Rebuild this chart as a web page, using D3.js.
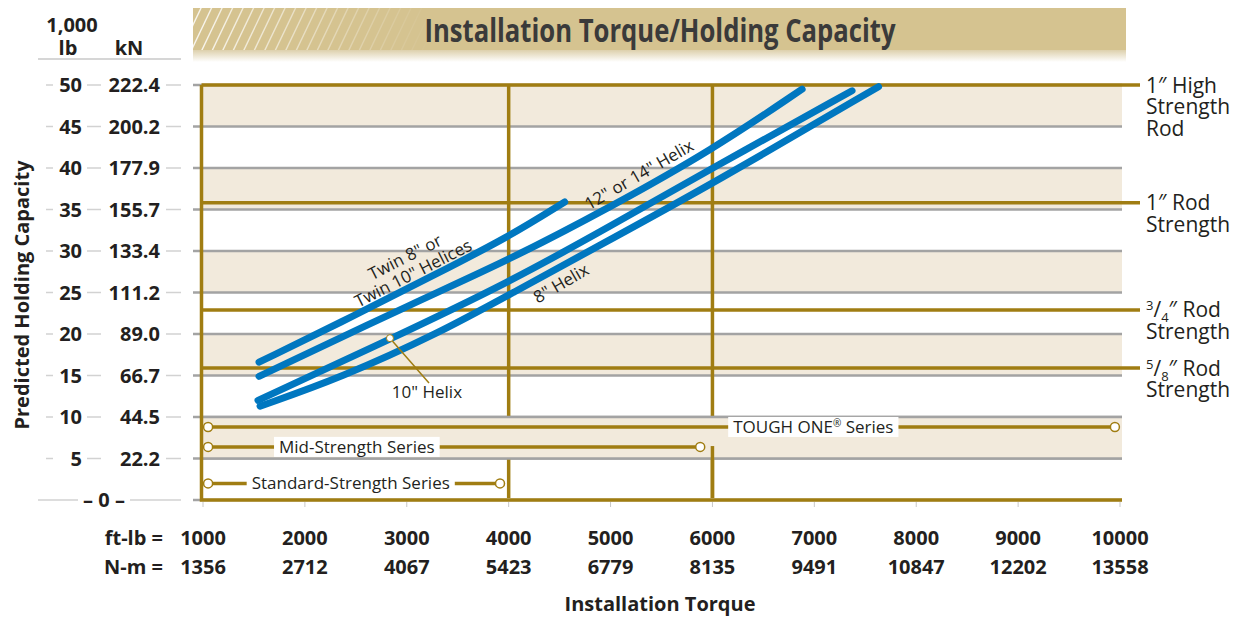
<!DOCTYPE html>
<html>
<head>
<meta charset="utf-8">
<script src="https://cdn.jsdelivr.net/npm/d3@7"></script>
<style>
  html, body { margin: 0; padding: 0; background: #fff; }
  svg { display: block; font-family: "Open Sans", sans-serif; }
</style>
</head>
<body>
<div id="chart"></div>
<script>
// installation torque ticks (ft-lb) and their N-m equivalents
const torqueFtLb = [1000, 2000, 3000, 4000, 5000, 6000, 7000, 8000, 9000, 10000];
const torqueNm = ["1356", "2712", "4067", "5423", "6779", "8135", "9491", "10847", "12202", "13558"];

// holding capacity ticks (1,000 lb) and kN equivalents
const capacityKips = [50, 45, 40, 35, 30, 25, 20, 15, 10, 5];
const capacityKN = ["222.4", "200.2", "177.9", "155.7", "133.4", "111.2", "89.0", "66.7", "44.5", "22.2"];

// rod strength limits (1,000 lb)
const rodNames = [["1″ High", "Strength", "Rod"], ["1″ Rod", "Strength"], ["3/4″ Rod", "Strength"], ["5/8″ Rod", "Strength"]];
const rodCapacity = [50, 35.8, 22.9, 15.9];

// product series torque ranges (ft-lb)
const seriesNames = ["Standard-Strength Series", "Mid-Strength Series", "TOUGH ONE® Series"];
const seriesLevel = [2.0, 6.4, 8.8];
const seriesFrom = [1050, 1050, 1050];
const seriesTo = [3915, 5880, 9950];

// helix curves: [torque ft-lb, capacity 1,000 lb]
const twinHelix = [[1550, 16.6], [2500, 22.3], [3300, 27.3], [4000, 31.7], [4550, 35.9]];
const helix12or14 = [[1550, 14.9], [3130, 24.1], [4000, 28.9], [5000, 35.3], [6000, 42.2], [6880, 49.5]];
const helix10 = [[1540, 12.0], [2840, 19.4], [4000, 26.2], [5000, 33.0], [6000, 40.0], [7370, 49.3]];
const helix8 = [[1560, 11.3], [2350, 14.7], [3330, 20.2], [4000, 24.7], [5000, 31.4], [6000, 38.1], [7630, 49.8]];

const gold = "#a07d12";
const blue = "#0077c0";
const ink = "#231f20";
const beige = "#f2eadc";

const width = 1235, height = 619;

const svg = d3.select("#chart").append("svg")
  .attr("width", width)
  .attr("height", height);

const x = d3.scaleLinear().domain([1000, 10000]).range([203, 1120]);
const y = d3.scaleLinear().domain([0, 50]).range([500, 85]);

const defs = svg.append("defs");

// ---- title banner ----
const fade = defs.append("linearGradient").attr("id", "hatchFade");
fade.append("stop").attr("offset", "0%").attr("stop-color", "#fff").attr("stop-opacity", 1);
fade.append("stop").attr("offset", "100%").attr("stop-color", "#fff").attr("stop-opacity", 0);
const hatchMask = defs.append("mask").attr("id", "hatchMask");
hatchMask.append("rect").attr("x", 193).attr("y", 8).attr("width", 240).attr("height", 42).attr("fill", "url(#hatchFade)");
defs.append("clipPath").attr("id", "bannerClip")
  .append("rect").attr("x", 193).attr("y", 8).attr("width", 933).attr("height", 42);

const shadow = defs.append("linearGradient").attr("id", "bannerShadow")
  .attr("x1", 0).attr("y1", 0).attr("x2", 0).attr("y2", 1);
shadow.append("stop").attr("offset", "0%").attr("stop-color", "#ddd0ac");
shadow.append("stop").attr("offset", "100%").attr("stop-color", "#fff");

svg.append("rect").attr("x", 193).attr("y", 50).attr("width", 933).attr("height", 12)
  .attr("fill", "url(#bannerShadow)");
svg.append("rect").attr("x", 193).attr("y", 8).attr("width", 933).attr("height", 42)
  .attr("fill", "#d5c390");

svg.append("g")
  .attr("clip-path", "url(#bannerClip)")
  .attr("mask", "url(#hatchMask)")
  .selectAll("line")
  .data(d3.range(0, 24))
  .join("line")
  .attr("x1", d => 180 + d * 10.5)
  .attr("y1", 52)
  .attr("x2", d => 180 + d * 10.5 + 22)
  .attr("y2", 6)
  .attr("stroke", "#fff")
  .attr("stroke-width", 1.4)
  .attr("stroke-opacity", 0.85);

svg.append("text")
  .attr("x", 660)
  .attr("y", 42)
  .attr("text-anchor", "middle")
  .attr("font-size", 33)
  .attr("font-weight", 700)
  .attr("fill", "#3a3a3a")
  .attr("textLength", 471)
  .attr("lengthAdjust", "spacingAndGlyphs")
  .text("Installation Torque/Holding Capacity");

// ---- background bands and gridlines ----
const bandPairs = [[45, 50], [35, 40], [25, 30], [15, 20]];
svg.append("g").selectAll("rect")
  .data(bandPairs)
  .join("rect")
  .attr("x", x(1000))
  .attr("y", d => y(d[1]))
  .attr("width", x(10000) + 2 - x(1000))
  .attr("height", d => y(d[0]) - y(d[1]))
  .attr("fill", beige);

svg.append("g").selectAll("line")
  .data(capacityKips.concat([0]))
  .join("line")
  .attr("x1", 193)
  .attr("x2", x(10000) + 2)
  .attr("y1", d => y(d))
  .attr("y2", d => y(d))
  .attr("stroke", "#a3a3a3")
  .attr("stroke-width", 2.5);

// vertical reference lines at 4000 and 6000 ft-lb
svg.append("g").selectAll("line")
  .data([4000, 6000])
  .join("line")
  .attr("x1", d => x(d))
  .attr("x2", d => x(d))
  .attr("y1", y(50))
  .attr("y2", y(0) - 2)
  .attr("stroke", gold)
  .attr("stroke-width", 3.5);

// low band sits over the vertical lines like in the original artwork
svg.append("rect")
  .attr("x", x(1000))
  .attr("y", y(10))
  .attr("width", x(10000) + 2 - x(1000))
  .attr("height", y(5) - y(10))
  .attr("fill", beige);
svg.append("g").selectAll("line")
  .data([10, 5])
  .join("line")
  .attr("x1", x(1000))
  .attr("x2", x(10000) + 2)
  .attr("y1", d => y(d))
  .attr("y2", d => y(d))
  .attr("stroke", "#a3a3a3")
  .attr("stroke-width", 2.5);
svg.append("line")
  .attr("x1", x(6000))
  .attr("x2", x(6000))
  .attr("y1", y(6.5))
  .attr("y2", y(0) - 2)
  .attr("stroke", gold)
  .attr("stroke-width", 3.5);

// plot frame
svg.append("path")
  .attr("d", `M${x(10000) + 2},${y(0)}H${x(1000) - 1.5}V${y(50)}`)
  .attr("fill", "none")
  .attr("stroke", gold)
  .attr("stroke-width", 3.5);

// rod strength lines
svg.append("g").selectAll("line")
  .data(rodCapacity)
  .join("line")
  .attr("x1", x(1000) - 1.5)
  .attr("x2", x(10000) + 20)
  .attr("y1", d => y(d))
  .attr("y2", d => y(d))
  .attr("stroke", gold)
  .attr("stroke-width", 3.5);

// rod labels
function addRodLine(textSel, line) {
  const m = line.match(/^(\d)\/(\d)(.*)$/);
  if (!m) { textSel.append("tspan").text(line); return; }
  textSel.append("tspan").attr("font-size", 13).attr("dy", -7).text(m[1]);
  textSel.append("tspan").attr("dy", 7).text("/");
  textSel.append("tspan").attr("font-size", 13).attr("dy", 5).text(m[2]);
  textSel.append("tspan").attr("dy", -5).text(m[3]);
}
rodNames.forEach((lines, i) => {
  lines.forEach((line, j) => {
    const t = svg.append("text")
      .attr("x", x(10000) + 26)
      .attr("y", y(rodCapacity[i]) + 7.5 + j * 21.5)
      .attr("font-size", 21)
      .attr("fill", ink);
    addRodLine(t, line);
  });
});

// ---- product series ----
const series = svg.append("g");
seriesNames.forEach((name, i) => {
  const yy = y(seriesLevel[i]);
  series.append("line")
    .attr("x1", x(seriesFrom[i]))
    .attr("x2", x(seriesTo[i]))
    .attr("y1", yy)
    .attr("y2", yy)
    .attr("stroke", gold)
    .attr("stroke-width", 3.5);
  series.selectAll(null)
    .data([seriesFrom[i], seriesTo[i]])
    .join("circle")
    .attr("cx", d => x(d))
    .attr("cy", yy)
    .attr("r", 4.5)
    .attr("fill", "#fff")
    .attr("stroke", gold)
    .attr("stroke-width", 1.5);
});
const seriesLabelAt = [2450, 2510, 6990];
seriesNames.forEach((name, i) => {
  const lab = series.append("g");
  const t = lab.append("text")
    .attr("x", x(seriesLabelAt[i]))
    .attr("y", y(seriesLevel[i]) + 6)
    .attr("text-anchor", "middle")
    .attr("font-size", 17)
    .attr("fill", ink);
  if (name.includes("®")) {
    t.append("tspan").text("TOUGH ONE");
    t.append("tspan").attr("font-size", 10).attr("dy", -6).text("®");
    t.append("tspan").attr("dy", 6).text(" Series");
  } else {
    t.text(name);
  }
  const bb = t.node().getBBox();
  lab.insert("rect", "text")
    .attr("x", bb.x - 5)
    .attr("y", y(seriesLevel[i]) - 10)
    .attr("width", bb.width + 10)
    .attr("height", 20)
    .attr("fill", "#fff");
});

// ---- helix curves ----
const line = d3.line()
  .x(d => x(d[0]))
  .y(d => y(d[1]))
  .curve(d3.curveBasis);

svg.append("g").selectAll("path")
  .data([twinHelix, helix12or14, helix10, helix8])
  .join("path")
  .attr("d", line)
  .attr("fill", "none")
  .attr("stroke", blue)
  .attr("stroke-width", 7)
  .attr("stroke-linecap", "round");

// curve labels
const twinLab = svg.append("text")
  .attr("transform", `translate(${x(3022)},${y(28.3)}) rotate(-27)`)
  .attr("text-anchor", "middle")
  .attr("font-size", 17)
  .attr("fill", ink);
twinLab.append("tspan").attr("x", 0).attr("y", -3).text("Twin 8\" or");
twinLab.append("tspan").attr("x", 0).attr("y", 15).text("Twin 10\" Helices");

svg.append("text")
  .attr("transform", `translate(${x(5279)},${y(39.2)}) rotate(-30)`)
  .attr("text-anchor", "middle")
  .attr("dy", "0.35em")
  .attr("font-size", 17)
  .attr("fill", ink)
  .text("12\" or 14\" Helix");

svg.append("text")
  .attr("transform", `translate(${x(4514)},${y(26.1)}) rotate(-30)`)
  .attr("text-anchor", "middle")
  .attr("dy", "0.35em")
  .attr("font-size", 17)
  .attr("fill", ink)
  .text("8\" Helix");

// 10" helix callout
const marker10 = [2835, 19.5];
svg.append("line")
  .attr("x1", x(marker10[0]))
  .attr("y1", y(marker10[1]))
  .attr("x2", x(3218))
  .attr("y2", y(14.1))
  .attr("stroke", gold)
  .attr("stroke-width", 1.5);
svg.append("circle")
  .attr("cx", x(marker10[0]))
  .attr("cy", y(marker10[1]))
  .attr("r", 3.5)
  .attr("fill", "#fff")
  .attr("stroke", gold)
  .attr("stroke-width", 1);
svg.append("text")
  .attr("x", x(3198))
  .attr("y", y(13.0) + 6)
  .attr("text-anchor", "middle")
  .attr("font-size", 17)
  .attr("fill", ink)
  .text("10\" Helix");

// ---- left axis ----
const left = svg.append("g").attr("fill", ink).attr("font-weight", 700).attr("font-size", 20);
left.append("text").attr("x", 72).attr("y", 32).attr("text-anchor", "middle").text("1,000");
left.append("text").attr("x", 68).attr("y", 55).attr("text-anchor", "middle").text("lb");
left.append("text").attr("x", 129).attr("y", 55).attr("text-anchor", "middle").text("kN");
svg.append("line").attr("x1", 38).attr("x2", 181).attr("y1", 59).attr("y2", 59)
  .attr("stroke", "#c8c8c8").attr("stroke-width", 1.5);

capacityKips.forEach((v, i) => {
  const yy = y(v);
  left.append("text").attr("x", 82).attr("y", yy + 7).attr("text-anchor", "end").text(v);
  left.append("text").attr("x", 160).attr("y", yy + 7).attr("text-anchor", "end").text(capacityKN[i]);
  [[46, 53], [87, 101], [166, 181]].forEach(seg => {
    svg.append("line").attr("x1", seg[0]).attr("x2", seg[1]).attr("y1", yy).attr("y2", yy)
      .attr("stroke", "#d2d2d2").attr("stroke-width", 1.5);
  });
});
left.append("text").attr("x", 104).attr("y", y(0) + 7).attr("text-anchor", "middle").text("– 0 –");
[[38, 78], [130, 181]].forEach(seg => {
  svg.append("line").attr("x1", seg[0]).attr("x2", seg[1]).attr("y1", y(0)).attr("y2", y(0))
    .attr("stroke", "#d2d2d2").attr("stroke-width", 1.5);
});

svg.append("text")
  .attr("transform", "translate(29,295) rotate(-90)")
  .attr("text-anchor", "middle")
  .attr("font-size", 20)
  .attr("font-weight", 700)
  .attr("fill", ink)
  .text("Predicted Holding Capacity");

// ---- bottom axis ----
svg.append("g").selectAll("line")
  .data(torqueFtLb)
  .join("line")
  .attr("x1", d => x(d))
  .attr("x2", d => x(d))
  .attr("y1", y(0) + 2)
  .attr("y2", y(0) + 7)
  .attr("stroke", "#c8c8c8")
  .attr("stroke-width", 1);

const bottom = svg.append("g").attr("fill", ink).attr("font-weight", 700).attr("font-size", 20);
bottom.selectAll(".ft")
  .data(torqueFtLb)
  .join("text")
  .attr("class", "ft")
  .attr("x", d => x(d))
  .attr("y", 545)
  .attr("text-anchor", "middle")
  .text(d => d);
bottom.selectAll(".nm")
  .data(torqueNm)
  .join("text")
  .attr("class", "nm")
  .attr("x", (d, i) => x(torqueFtLb[i]))
  .attr("y", 574)
  .attr("text-anchor", "middle")
  .text(d => d);
bottom.append("text").attr("x", 163).attr("y", 545).attr("text-anchor", "end").text("ft-lb =");
bottom.append("text").attr("x", 163).attr("y", 574).attr("text-anchor", "end").text("N-m =");

svg.append("text")
  .attr("x", 660)
  .attr("y", 611)
  .attr("text-anchor", "middle")
  .attr("font-size", 20)
  .attr("font-weight", 700)
  .attr("fill", ink)
  .text("Installation Torque");
</script>
</body>
</html>
